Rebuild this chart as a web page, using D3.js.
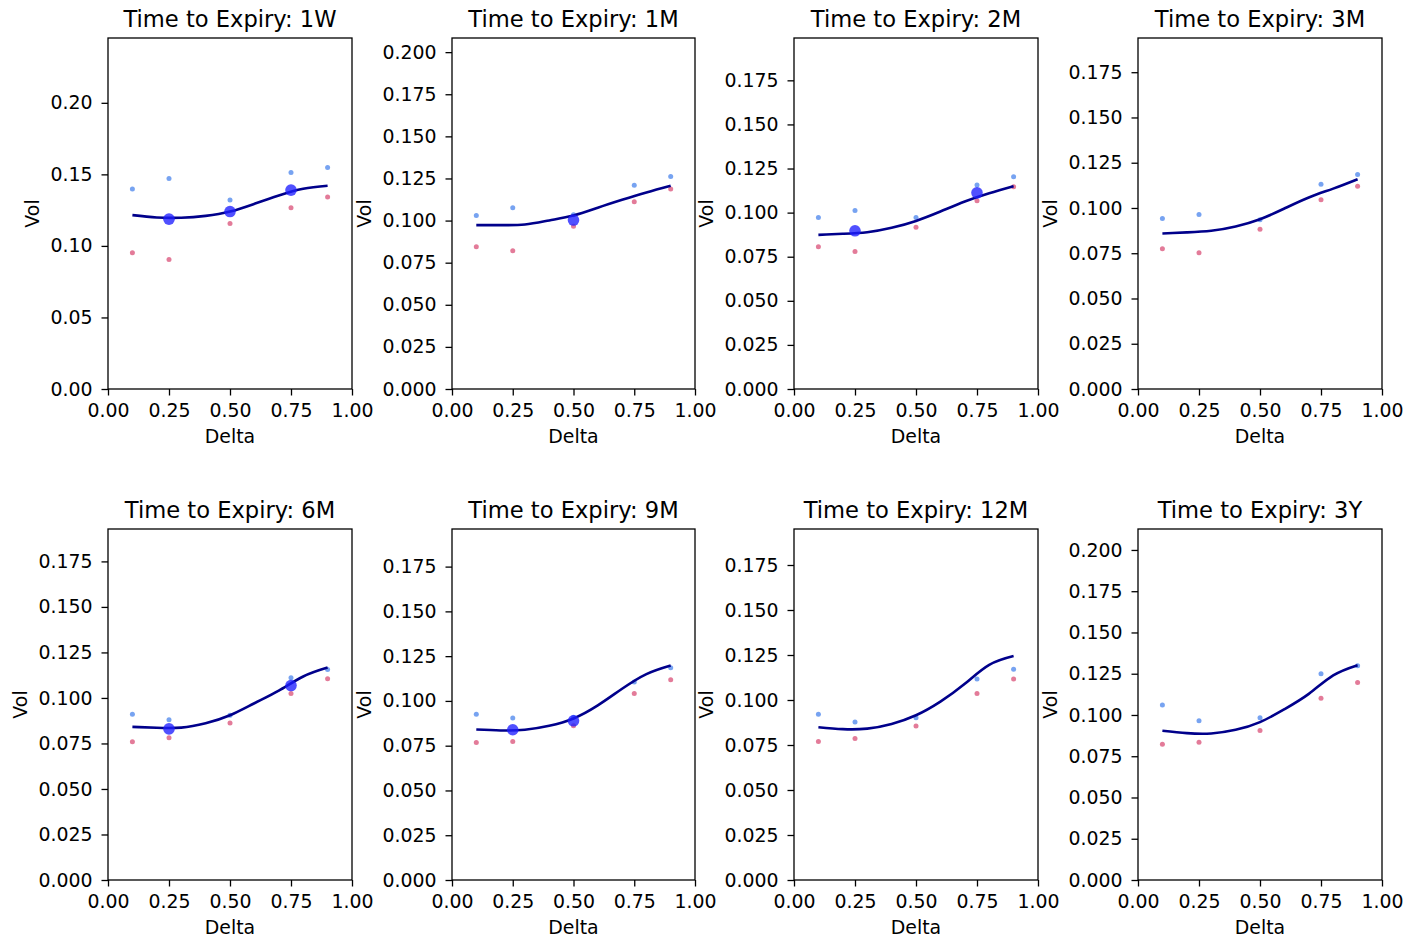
<!DOCTYPE html>
<html>
<head>
<meta charset="utf-8">
<script src="https://cdn.jsdelivr.net/npm/d3@7"></script>
<style>
  body { margin: 0; background: #fff; }
  svg text { font-family: "DejaVu Sans", sans-serif; fill: #000; }
</style>
</head>
<body>
<svg id="chart" width="1427" height="938"></svg>
<script>
// ---------- data ----------
const expiries = ["1W", "1M", "2M", "3M", "6M", "9M", "12M", "3Y"];
const deltas = [0.1, 0.25, 0.5, 0.75, 0.9];

// light blue small markers
const askVols = [
  [0.1397, 0.1471, 0.1320, 0.1513, 0.1548],
  [0.1030, 0.1076, 0.1034, 0.1210, 0.1262],
  [0.0972, 0.1012, 0.0972, 0.1157, 0.1204],
  [0.0942, 0.0964, 0.0935, 0.1131, 0.1185],
  [0.0911, 0.0880, 0.0905, 0.1111, 0.1156],
  [0.0926, 0.0904, 0.0909, 0.1105, 0.1185],
  [0.0921, 0.0878, 0.0901, 0.1116, 0.1171],
  [0.1060, 0.0965, 0.0983, 0.1250, 0.1298]
];
// pink small markers
const bidVols = [
  [0.0952, 0.0905, 0.1157, 0.1266, 0.1341],
  [0.0845, 0.0821, 0.0967, 0.1112, 0.1187],
  [0.0806, 0.0780, 0.0917, 0.1067, 0.1146],
  [0.0775, 0.0752, 0.0883, 0.1045, 0.1120],
  [0.0760, 0.0781, 0.0863, 0.1024, 0.1105],
  [0.0768, 0.0773, 0.0861, 0.1042, 0.1118],
  [0.0769, 0.0786, 0.0856, 0.1036, 0.1117],
  [0.0823, 0.0835, 0.0906, 0.1102, 0.1197]
];
// large blue markers (null = not shown)
const quoteVols = [
  [null, 0.1187, 0.1240, 0.1390, null],
  [null, null, 0.1003, null, null],
  [null, 0.0897, null, 0.1112, null],
  [null, null, null, null, null],
  [null, 0.0830, null, 0.1068, null],
  [null, 0.0839, 0.0889, null, null],
  [null, null, null, null, null],
  [null, null, null, null, null]
];
// fitted smile curve
const curveDeltas = [0.1, 0.2, 0.3, 0.4, 0.5, 0.6, 0.7, 0.8, 0.9];
const curveVols = [
  [0.1215, 0.1199, 0.1197, 0.1210, 0.1240, 0.1294, 0.1352, 0.1399, 0.1420],
  [0.0973, 0.0973, 0.0977, 0.1001, 0.1030, 0.1076, 0.1123, 0.1167, 0.1207],
  [0.0874, 0.0880, 0.0889, 0.0914, 0.0953, 0.1006, 0.1063, 0.1110, 0.1150],
  [0.0859, 0.0865, 0.0874, 0.0898, 0.0938, 0.0997, 0.1058, 0.1107, 0.1159],
  [0.0841, 0.0836, 0.0837, 0.0861, 0.0905, 0.0971, 0.1040, 0.1118, 0.1167],
  [0.0840, 0.0835, 0.0839, 0.0861, 0.0902, 0.0975, 0.1068, 0.1150, 0.1198],
  [0.0849, 0.0838, 0.0841, 0.0867, 0.0915, 0.0991, 0.1090, 0.1195, 0.1244],
  [0.0904, 0.0890, 0.0888, 0.0910, 0.0957, 0.1035, 0.1128, 0.1240, 0.1302]
];
const yMax = [0.2453, 0.2084, 0.1990, 0.1939, 0.1928, 0.1960, 0.1950, 0.2127];
const yTickStep = [0.05, 0.025, 0.025, 0.025, 0.025, 0.025, 0.025, 0.025];
const xTicks = [0, 0.25, 0.5, 0.75, 1.0];

// ---------- layout ----------
const colX = [[108, 352], [452, 695], [794, 1038], [1138, 1382]];
const rowY = [[38, 389], [529, 880]];
const fontTick = 18.9, fontTitle = 22.6;

const svg = d3.select("#chart");

expiries.forEach((exp, i) => {
  const col = i % 4, row = Math.floor(i / 4);
  const [x0, x1] = colX[col];
  const [y0, y1] = rowY[row];
  const x = d3.scaleLinear().domain([0, 1]).range([x0, x1]);
  const y = d3.scaleLinear().domain([0, yMax[i]]).range([y1, y0]);
  const g = svg.append("g");

  const step = yTickStep[i];
  const yTicks = d3.range(0, yMax[i] + 1e-9, step).map(v => +v.toFixed(4));
  const fmt = step === 0.05 ? d3.format(".2f") : d3.format(".3f");

  // axes
  const xAxis = g.append("g").attr("transform", `translate(0,${y1})`)
    .call(d3.axisBottom(x).tickValues(xTicks).tickFormat(d3.format(".2f")).tickSize(6.5).tickPadding(5));
  const yAxis = g.append("g").attr("transform", `translate(${x0},0)`)
    .call(d3.axisLeft(y).tickValues(yTicks).tickFormat(fmt).tickSize(6.5).tickPadding(9));
  [xAxis, yAxis].forEach(a => {
    a.select(".domain").remove();
    a.selectAll("line").attr("stroke", "#000").attr("stroke-width", 1.3);
    a.selectAll("text").style("font-size", fontTick + "px").attr("fill", "#000");
  });
  xAxis.selectAll("text").attr("dy", "0.85em");

  // frame
  g.append("rect").attr("x", x0).attr("y", y0).attr("width", x1 - x0).attr("height", y1 - y0)
    .attr("fill", "none").attr("stroke", "#000").attr("stroke-width", 1.3);

  // labels
  g.append("text").attr("x", (x0 + x1) / 2).attr("y", y0 - 11)
    .attr("text-anchor", "middle").style("font-size", fontTitle + "px")
    .text("Time to Expiry: " + exp);
  g.append("text").attr("x", (x0 + x1) / 2).attr("y", y1 + 54)
    .attr("text-anchor", "middle").style("font-size", fontTick + "px").text("Delta");
  let minLeft = x0;
  yAxis.selectAll("text").each(function () {
    const b = this.getBBox();
    minLeft = Math.min(minLeft, x0 + b.x);
  });
  const lx = minLeft - 18.5, ly = (y0 + y1) / 2;
  g.append("text").attr("transform", `translate(${lx},${ly}) rotate(-90)`)
    .attr("text-anchor", "middle").attr("dy", "0.35em")
    .style("font-size", fontTick + "px").text("Vol");

  // markers
  g.selectAll(".ask").data(deltas.map((d, k) => [d, askVols[i][k]])).enter()
    .append("circle").attr("cx", d => x(d[0])).attr("cy", d => y(d[1])).attr("r", 2.5)
    .attr("fill", "#5f93ee").attr("opacity", 0.85);
  g.selectAll(".bid").data(deltas.map((d, k) => [d, bidVols[i][k]])).enter()
    .append("circle").attr("cx", d => x(d[0])).attr("cy", d => y(d[1])).attr("r", 2.5)
    .attr("fill", "#dc5a80").attr("opacity", 0.8);

  // curve
  const line = d3.line().x(d => x(d[0])).y(d => y(d[1])).curve(d3.curveNatural);
  g.append("path").datum(curveDeltas.map((d, k) => [d, curveVols[i][k]]))
    .attr("d", line).attr("fill", "none").attr("stroke", "#00008b").attr("stroke-width", 2.6);

  // large markers
  g.selectAll(".quote").data(deltas.map((d, k) => [d, quoteVols[i][k]]).filter(d => d[1] !== null)).enter()
    .append("circle").attr("cx", d => x(d[0])).attr("cy", d => y(d[1])).attr("r", 5.8)
    .attr("fill", "#1f1fff").attr("opacity", 0.78);
});
</script>
</body>
</html>
